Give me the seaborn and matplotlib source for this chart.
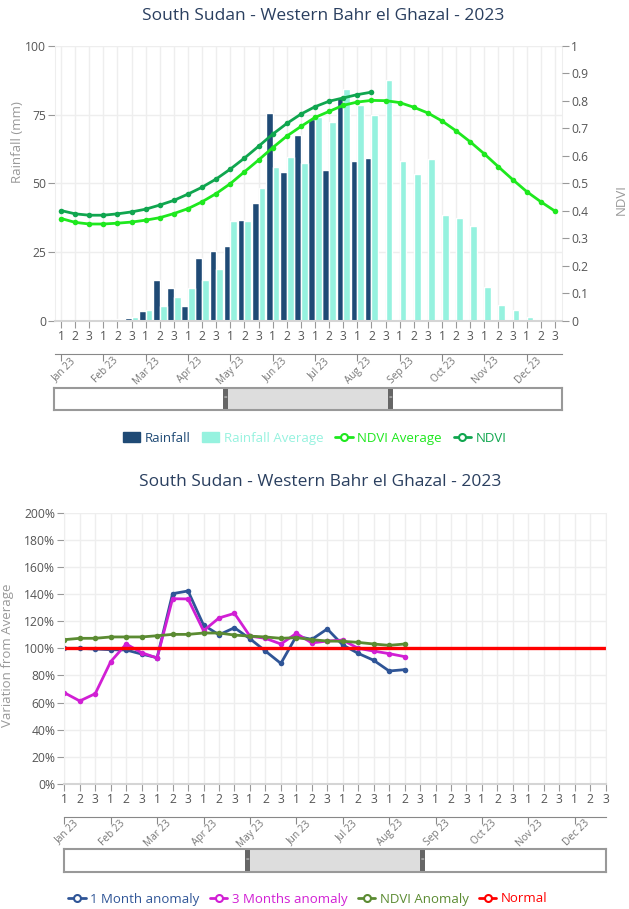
import numpy as np
import pandas as pd
import seaborn as sns
import matplotlib.pyplot as plt
from matplotlib.lines import Line2D
from matplotlib.patches import Patch
from matplotlib.transforms import ScaledTranslation

# --- CONFIGURATION ---
W, H = 629, 909
OUTPUT_PATH = "out.png"

TITLE = "South Sudan - Western Bahr el Ghazal - 2023"
MONTHS = ["Jan 23", "Feb 23", "Mar 23", "Apr 23", "May 23", "Jun 23",
          "Jul 23", "Aug 23", "Sep 23", "Oct 23", "Nov 23", "Dec 23"]
DEKAD_LABELS = ["1", "2", "3"] * 12

# --- DATA (per dekad from Jan 1) ---
RAINFALL = [0.2, 0.2, 0.3, 0.3, 0.5, 1.0, 3.4, 14.7, 11.8, 5.5, 22.7, 25.3,
            27.3, 36.5, 42.8, 75.5, 54.0, 67.6, 73.6, 54.7, 81.5, 58.1, 59.3]
RAINFALL_AVG = [0.1, 0.1, 0.2, 0.3, 0.5, 1.3, 4.0, 5.3, 8.7, 12.0, 14.9, 18.7,
                36.4, 36.4, 48.4, 55.9, 59.5, 57.5, 74.2, 72.2, 84.2, 78.5, 75.0, 87.8,
                58.1, 53.5, 58.8, 38.3, 37.5, 34.5, 12.2, 5.6, 4.0, 1.2, 0.3, 0.1]
NDVI = [0.401, 0.389, 0.384, 0.384, 0.389, 0.396, 0.406, 0.421, 0.438, 0.461, 0.486, 0.516,
        0.552, 0.592, 0.635, 0.679, 0.718, 0.752, 0.779, 0.799, 0.811, 0.823, 0.832]
NDVI_AVG = [0.372, 0.358, 0.352, 0.352, 0.355, 0.359, 0.366, 0.375, 0.390, 0.408, 0.433, 0.463,
            0.499, 0.542, 0.585, 0.630, 0.672, 0.707, 0.740, 0.762, 0.784, 0.796, 0.802, 0.801,
            0.794, 0.777, 0.756, 0.727, 0.691, 0.651, 0.607, 0.560, 0.514, 0.470, 0.433, 0.399]

ANOM_1M = [100, 100, 99.5, 99, 98.8, 95.8, 93.1, 140.3, 142.3, 117.2, 110, 115.2,
           107.1, 98, 88.9, 109, 106.6, 114.3, 102.5, 96.3, 91.2, 83.3, 84.3]
ANOM_3M = [67.3, 61.2, 66.6, 90.2, 103.2, 96.8, 92.9, 136.6, 136.4, 113, 122.4, 125.8,
           109, 107.4, 103.2, 111, 104, 105.4, 106.1, 100, 98, 96.1, 93.9]
ANOM_NDVI = [106.4, 107.4, 107.4, 108.4, 108.4, 108.4, 109.3, 110.3, 110.3, 111.3, 111.3, 109.8,
             109, 108.4, 107.4, 107.9, 106.4, 105.4, 105.2, 104.4, 103.2, 102.2, 103.2]
NORMAL = [100] * 36

# --- COLOURS ---
C_RAIN = "#1f4a75"
C_RAIN_AVG = "#96f2df"
C_NDVI_AVG = "#1ee81e"
C_NDVI = "#10a64f"
C_1M = "#2f5597"
C_3M = "#d11fd4"
C_NDVI_AN = "#5b8b32"
C_NORMAL = "#ff0000"
GRID = "#eeeeee"
TICK_TXT = "#555555"
AXIS_TXT = "#999999"
SLIDER_WIN = (1 / 3, 2 / 3)

sns.set_style("white")
plt.rcParams["font.family"] = ["Open Sans", "DejaVu Sans"]

fig = plt.figure(figsize=(W / 100, H / 100), dpi=100)


def px_axes(left, top, right, bottom):
    return fig.add_axes([left / W, 1 - bottom / H, (right - left) / W, (bottom - top) / H])


def style_main(a):
    a.grid(True, color=GRID, lw=1)
    a.set_axisbelow(True)
    a.spines["top"].set_visible(False)
    a.spines["left"].set_color(GRID)
    a.spines["right"].set_color(GRID)
    a.spines["bottom"].set_color("#d5d5d5")
    a.spines["bottom"].set_linewidth(1.5)
    a.tick_params(axis="both", length=5, color="#999999", labelcolor=TICK_TXT,
                  labelsize=8.7, direction="out", pad=1.5)
    a.tick_params(axis="x", bottom=True)
    a.tick_params(axis="y", left=True)


def month_axis(left, y, right, xlim):
    m = px_axes(left, y - 1, right, y)
    m.set_facecolor("none")
    m.set_xlim(*xlim)
    m.set_yticks([])
    for s in ("top", "left", "right"):
        m.spines[s].set_visible(False)
    m.spines["bottom"].set_color("#888888")
    m.set_xticks(np.arange(0, 36, 3))
    m.set_xticklabels(MONTHS, rotation=45, rotation_mode="anchor", ha="right", va="center",
                      fontsize=7.3, color="#777777")
    m.tick_params(axis="x", length=5, color="#888888", pad=1.5, bottom=True, direction="out")
    # plotly puts the end of each slanted label a little right of its tick
    shift = ScaledTranslation(13 / 100, 4 / 100, fig.dpi_scale_trans)
    for lab in m.get_xticklabels():
        lab.set_transform(lab.get_transform() + shift)
    return m


def draw_slider(left, top, right, bottom):
    s = px_axes(left, top, right, bottom)
    s.set_xlim(0, 1)
    s.set_ylim(0, 1)
    s.set_xticks([])
    s.set_yticks([])
    for sp in s.spines.values():
        sp.set_color("#999999")
        sp.set_linewidth(1.5)
    hw = 5 / (right - left)
    s.axvspan(SLIDER_WIN[0], SLIDER_WIN[1], color="#dddddd", lw=0)
    for x0 in (SLIDER_WIN[0], SLIDER_WIN[1] - hw):
        s.axvspan(x0, x0 + hw, color="#666666", lw=0)
        s.text(x0 + hw / 2, 0.55, "=", color="white", fontsize=4.5, ha="center", va="center")
    return s


idx = np.arange(len(DEKAD_LABELS))

# --- TOP CHART: rainfall bars + NDVI lines ---
ax = px_axes(55, 46, 562, 320.7)
bars = pd.DataFrame({
    "dekad": np.concatenate([idx[:len(RAINFALL)], idx]),
    "mm": RAINFALL + RAINFALL_AVG,
    "series": ["Rainfall"] * len(RAINFALL) + ["Rainfall Average"] * len(RAINFALL_AVG),
})
sns.barplot(data=bars, x="dekad", y="mm", hue="series", order=list(idx),
            hue_order=["Rainfall", "Rainfall Average"], palette=[C_RAIN, C_RAIN_AVG],
            width=0.95, gap=0, saturation=1, errorbar=None, legend=False, ax=ax)
style_main(ax)
ax.set_xlim(-0.426, 35.5)
ax.set_ylim(0, 100)
ax.set_yticks([0, 25, 50, 75, 100])
ax.set_xticks(idx)
ax.set_xticklabels(DEKAD_LABELS)
ax.set_xlabel("")
ax.set_ylabel("Rainfall (mm)", color=AXIS_TXT, fontsize=9.5)
ax.yaxis.set_label_coords(-0.062, 0.65)

ax2 = ax.twinx()
sns.lineplot(x=idx[:len(NDVI_AVG)], y=NDVI_AVG, color=C_NDVI_AVG, lw=2, marker="o",
             markersize=4, markeredgewidth=0, ax=ax2)
sns.lineplot(x=idx[:len(NDVI)], y=NDVI, color=C_NDVI, lw=2, marker="o",
             markersize=4, markeredgewidth=0, ax=ax2)
ax2.set_xlim(-0.426, 35.5)
ax2.set_ylim(0, 1)
ndvi_ticks = np.round(np.arange(0, 1.01, 0.1), 1)
ax2.set_yticks(ndvi_ticks)
ax2.set_yticklabels([f"{v:g}" for v in ndvi_ticks])
ax2.grid(False)
for s in ax2.spines.values():
    s.set_visible(False)
ax2.tick_params(axis="y", length=5, color="#999999", labelcolor=TICK_TXT,
                labelsize=8.7, direction="out", pad=1.5, right=True)
ax2.set_ylabel("NDVI", color=AXIS_TXT, fontsize=9.5)
ax2.yaxis.set_label_coords(1.105, 0.44)

fig.text(323 / W, 1 - 16 / H, TITLE, ha="center", va="center", fontsize=12.5, color="#2a3f5f")
month_axis(55, 354.3, 562, (-0.426, 35.5))
draw_slider(54.3, 387.7, 561.7, 410)

top_handles = [
    Patch(color=C_RAIN), Patch(color=C_RAIN_AVG),
    Line2D([0], [0], color=C_NDVI_AVG, lw=2, marker="o", markersize=5,
           markerfacecolor="white", markeredgecolor=C_NDVI_AVG, markeredgewidth=1.5),
    Line2D([0], [0], color=C_NDVI, lw=2, marker="o", markersize=5,
           markerfacecolor="white", markeredgecolor=C_NDVI, markeredgewidth=1.5),
]
top_labels = ["Rainfall", "Rainfall Average", "NDVI Average", "NDVI"]
leg = fig.legend(top_handles, top_labels, loc="center", bbox_to_anchor=(314.5 / W, 1 - 438 / H),
                 ncol=4, frameon=False, fontsize=9.5, handlelength=1.3, handletextpad=0.35,
                 columnspacing=0.9)
for t, c in zip(leg.get_texts(), [C_RAIN, C_RAIN_AVG, C_NDVI_AVG, C_NDVI]):
    t.set_color(c)

# --- BOTTOM CHART: anomalies ---
bx = px_axes(64.3, 512.7, 605.7, 784)
sns.lineplot(x=idx[:len(ANOM_1M)], y=ANOM_1M, color=C_1M, lw=2, marker="o",
             markersize=4, markeredgewidth=0, ax=bx)
sns.lineplot(x=idx[:len(ANOM_3M)], y=ANOM_3M, color=C_3M, lw=2, marker="o",
             markersize=4, markeredgewidth=0, ax=bx)
sns.lineplot(x=idx[:len(ANOM_NDVI)], y=ANOM_NDVI, color=C_NDVI_AN, lw=2, marker="o",
             markersize=4, markeredgewidth=0, ax=bx)
sns.lineplot(x=idx[:len(NORMAL)], y=NORMAL, color=C_NORMAL, lw=2.4, ax=bx)
style_main(bx)
bx.set_xlim(0, 35)
bx.set_ylim(0, 200)
pct_ticks = np.arange(0, 201, 20)
bx.set_yticks(pct_ticks)
bx.set_yticklabels([f"{v}%" for v in pct_ticks])
bx.set_xticks(idx)
bx.set_xticklabels(DEKAD_LABELS)
bx.set_ylabel("Variation from Average", color=AXIS_TXT, fontsize=9.5)
bx.yaxis.set_label_coords(-0.092, 0.475)

fig.text(320 / W, 1 - 482 / H, TITLE, ha="center", va="center", fontsize=12.5, color="#2a3f5f")
month_axis(64.3, 816.7, 605.7, (0, 35))
draw_slider(64.3, 849.3, 605.7, 871.7)

bot_handles = [
    Line2D([0], [0], color=c, lw=2, marker="o", markersize=5,
           markerfacecolor="white", markeredgecolor=c, markeredgewidth=1.5)
    for c in (C_1M, C_3M, C_NDVI_AN, C_NORMAL)
]
bot_labels = ["1 Month anomaly", "3 Months anomaly", "NDVI Anomaly", "Normal"]
leg2 = fig.legend(bot_handles, bot_labels, loc="center", bbox_to_anchor=(308 / W, 1 - 899 / H),
                  ncol=4, frameon=False, fontsize=9.5, handlelength=1.3, handletextpad=0.35,
                  columnspacing=0.8)
for t, c in zip(leg2.get_texts(), [C_1M, C_3M, C_NDVI_AN, C_NORMAL]):
    t.set_color(c)

fig.savefig(OUTPUT_PATH, dpi=100)
